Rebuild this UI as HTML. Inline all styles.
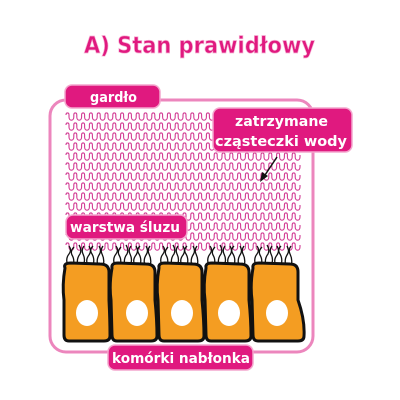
<!DOCTYPE html>
<html><head><meta charset="utf-8"><style>
body{margin:0;background:#fff;width:400px;height:400px;overflow:hidden}
svg{display:block}
text{font-family:"DejaVu Sans","Liberation Sans",sans-serif;font-weight:bold}
</style></head><body>
<svg width="400" height="400" viewBox="0 0 400 400">
<text x="84" y="53" font-size="23" textLength="231" lengthAdjust="spacingAndGlyphs" fill="#e0197f" stroke="#f7b6d6" stroke-width="0.7">A) Stan prawidłowy</text>
<rect x="50" y="100" width="263" height="252" rx="16" fill="none" stroke="#ec86bd" stroke-width="3"/>
<g id="waves" fill="none" stroke="#d23a93" stroke-width="1.1"></g>
<g stroke="#111" stroke-width="1.3" fill="none">
<path d="M68,266 q-3,-7 1,-12 q3,-4 0,-8"/><path d="M73,266 q2,-6 -1,-11 q-2,-4 2,-8"/><path d="M78,266 q-2,-7 2,-12 q2,-4 -1,-9"/><path d="M83,266 q3,-6 0,-12 q-2,-4 1,-8"/><path d="M88,266 q-3,-6 1,-11 q3,-4 0,-9"/><path d="M93,266 q2,-7 -1,-12 q-3,-4 1,-8"/><path d="M98,266 q-2,-6 1,-11 q3,-4 0,-9"/><path d="M103,266 q2,-6 -1,-12 q-2,-4 1,-8"/>
<path d="M115,266 q-3,-7 1,-12 q3,-4 0,-8"/><path d="M120,266 q2,-6 -1,-11 q-2,-4 2,-8"/><path d="M125,266 q-2,-7 2,-12 q2,-4 -1,-9"/><path d="M130,266 q3,-6 0,-12 q-2,-4 1,-8"/><path d="M135,266 q-3,-6 1,-11 q3,-4 0,-9"/><path d="M140,266 q2,-7 -1,-12 q-3,-4 1,-8"/><path d="M145,266 q-2,-6 1,-11 q3,-4 0,-9"/><path d="M150,266 q2,-6 -1,-12 q-2,-4 1,-8"/>
<path d="M162,266 q-3,-7 1,-12 q3,-4 0,-8"/><path d="M167,266 q2,-6 -1,-11 q-2,-4 2,-8"/><path d="M172,266 q-2,-7 2,-12 q2,-4 -1,-9"/><path d="M177,266 q3,-6 0,-12 q-2,-4 1,-8"/><path d="M182,266 q-3,-6 1,-11 q3,-4 0,-9"/><path d="M187,266 q2,-7 -1,-12 q-3,-4 1,-8"/><path d="M192,266 q-2,-6 1,-11 q3,-4 0,-9"/><path d="M197,266 q2,-6 -1,-12 q-2,-4 1,-8"/>
<path d="M209,266 q-3,-7 1,-12 q3,-4 0,-8"/><path d="M214,266 q2,-6 -1,-11 q-2,-4 2,-8"/><path d="M219,266 q-2,-7 2,-12 q2,-4 -1,-9"/><path d="M224,266 q3,-6 0,-12 q-2,-4 1,-8"/><path d="M229,266 q-3,-6 1,-11 q3,-4 0,-9"/><path d="M234,266 q2,-7 -1,-12 q-3,-4 1,-8"/><path d="M239,266 q-2,-6 1,-11 q3,-4 0,-9"/><path d="M244,266 q2,-6 -1,-12 q-2,-4 1,-8"/>
<path d="M256,266 q-3,-7 1,-12 q3,-4 0,-8"/><path d="M261,266 q2,-6 -1,-11 q-2,-4 2,-8"/><path d="M266,266 q-2,-7 2,-12 q2,-4 -1,-9"/><path d="M271,266 q3,-6 0,-12 q-2,-4 1,-8"/><path d="M276,266 q-3,-6 1,-11 q3,-4 0,-9"/><path d="M281,266 q2,-7 -1,-12 q-3,-4 1,-8"/><path d="M286,266 q-2,-6 1,-11 q3,-4 0,-9"/><path d="M291,266 q2,-6 -1,-12 q-2,-4 1,-8"/>
</g>
<g stroke="#111" stroke-width="3" fill="#f49d22">
<path d="M65,268 Q63,263 71,263 L100,264 Q109,264 109,272 L109,300 Q110,320 110,336 Q110,341 104,341 L69,341 Q64,341 64,335 L64,300 Q62,285 65,268 Z"/>
<path d="M112,268 Q111,263 118,263 L146,264 Q155,264 155,272 L155,300 Q157,320 157,336 Q157,341 151,341 L117,341 Q112,341 112,335 L111,300 Q109,285 112,268 Z"/>
<path d="M159,268 Q158,263 165,263 L193,264 Q202,264 202,272 L202,300 Q204,320 204,336 Q204,341 198,341 L164,341 Q159,341 159,335 L158,300 Q156,285 159,268 Z"/>
<path d="M206,268 Q205,263 212,263 L240,264 Q249,264 249,272 L249,300 Q251,320 251,336 Q251,341 245,341 L211,341 Q206,341 206,335 L205,300 Q203,285 206,268 Z"/>
<path d="M253,268 Q252,263 259,263 L290,264 Q298,264 298,272 L298,300 Q305,320 304,336 Q304,341 298,341 L258,341 Q253,341 253,335 L252,300 Q250,285 253,268 Z"/>
</g>
<g fill="#fff">
<ellipse cx="87" cy="313" rx="11" ry="13"/>
<ellipse cx="137" cy="313" rx="11" ry="13"/>
<ellipse cx="182" cy="313" rx="11" ry="13"/>
<ellipse cx="229" cy="313" rx="11" ry="13"/>
<ellipse cx="277" cy="313" rx="11" ry="13"/>
</g>
<g id="labels">
<path d="M277,157 L263,178" stroke="#111" stroke-width="1.5"/>
<path d="M260,182 L262,172 L268,176 Z" fill="#111"/>
<g>
<rect x="65" y="85" width="95" height="23" rx="7" fill="#e0197f" stroke="#f4a6cd" stroke-width="1.5"/>
<text x="90" y="102" font-size="14" textLength="47" lengthAdjust="spacingAndGlyphs" fill="#fff">gardło</text></g>
<g>
<rect x="213" y="108" width="139" height="44" rx="7" fill="#e0197f" stroke="#f4a6cd" stroke-width="1.5"/>
<text x="235" y="126" font-size="14" textLength="93" lengthAdjust="spacingAndGlyphs" fill="#fff">zatrzymane</text>
<text x="215" y="146" font-size="14" textLength="132" lengthAdjust="spacingAndGlyphs" fill="#fff">cząsteczki wody</text></g>
<g>
<rect x="66" y="215" width="121" height="24" rx="7" fill="#e0197f" stroke="#f4a6cd" stroke-width="1.5"/>
<text x="70" y="232" font-size="14" textLength="110" lengthAdjust="spacingAndGlyphs" fill="#fff">warstwa śluzu</text></g>
<g>
<rect x="108" y="345" width="145" height="25" rx="7" fill="#e0197f" stroke="#f4a6cd" stroke-width="1.5"/>
<text x="112" y="363" font-size="14" textLength="138" lengthAdjust="spacingAndGlyphs" fill="#fff">komórki nabłonka</text></g>
</g>
</svg>
<script>
var g=document.getElementById('waves');
var p=7.8, x0=66, x1=300;
for(var r=0;r<14;r++){
  var t=113+r*10, b=t+7, d='M'+x0+','+(t+2);
  for(var x=x0;x+p<=x1+0.5;x+=p){
    d+=' C'+x+','+(t-0.7)+' '+(x+3)+','+(t-0.7)+' '+(x+3)+','+(t+2);
    d+=' L'+(x+3)+','+(b-3);
    d+=' C'+(x+3)+','+(b+1.3)+' '+(x+p)+','+(b+1.3)+' '+(x+p)+','+(b-3);
    d+=' L'+(x+p)+','+(t+2);
  }
  var el=document.createElementNS('http://www.w3.org/2000/svg','path');
  el.setAttribute('d',d);
  
  
  g.appendChild(el);
}
</script>
</body></html>
